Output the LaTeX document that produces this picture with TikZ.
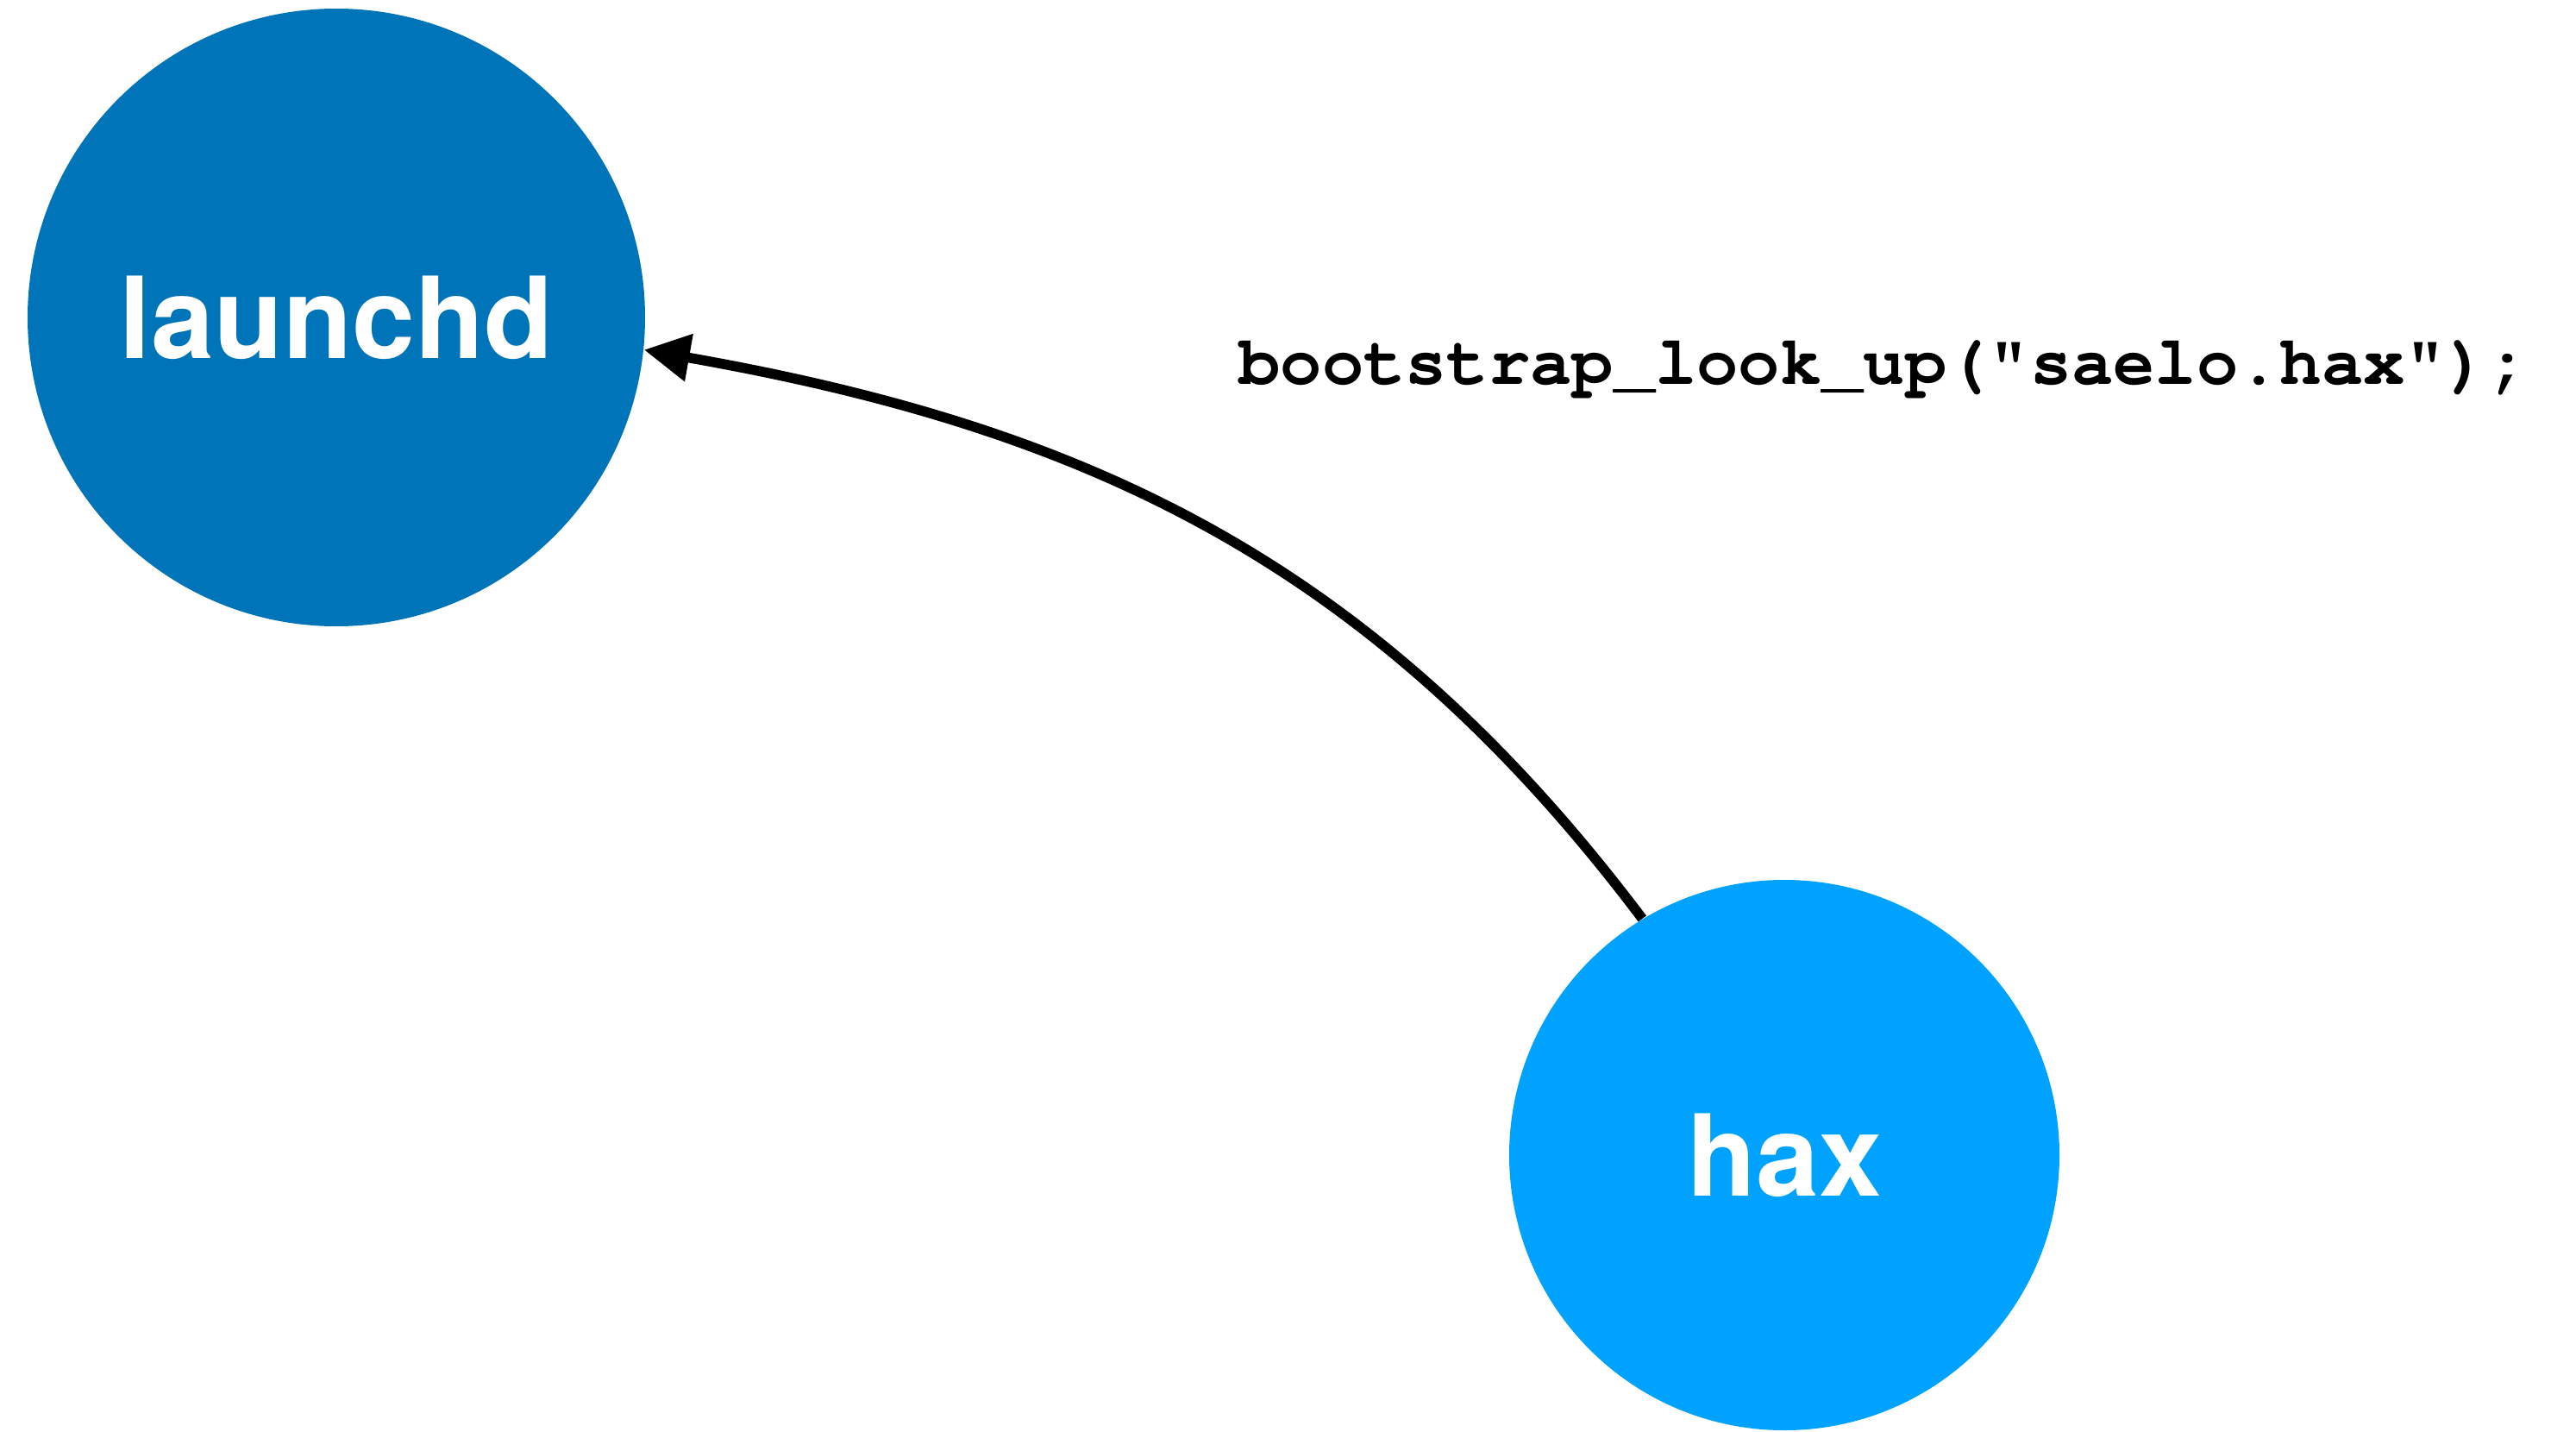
\documentclass[tikz,border=0pt]{standalone}
\usepackage[T1]{fontenc}
\usepackage{fontspec}
\setmainfont{TeX Gyre Heros}
\newcommand{\codefont}{\fontencoding{T1}\fontfamily{pcr}\fontseries{b}\selectfont}
\usepackage{tikz}
\usetikzlibrary{positioning,arrows.meta,calc}
\definecolor{launchdblue}{RGB}{0,116,184}
\definecolor{haxblue}{RGB}{0,162,255}

\begin{document}
\begin{tikzpicture}[>={Triangle[length=5.3mm,width=5.3mm]},
    every node/.style={font=\fontsize{37.3}{40}\selectfont\bfseries, text=white, align=center}]
  \def\dl{7.16cm}  \def\dh{6.38cm}
  \useasboundingbox (0,0) rectangle (29.87,-16.60);

  \node[circle, fill=launchdblue, inner sep=0pt, minimum size=\dl] (launchd)
      at (3.90,-3.68) {launchd};

  \node[circle, fill=haxblue, inner sep=0pt, minimum size=\dh] (hax)
      at (20.69,-13.39) {hax};

  \draw[->, line width=3.3pt] (hax.121) to[out=127, in=-10] (launchd.-6);

  \node[font=\codefont\fontsize{22.9}{27}\selectfont, text=black,
        anchor=base, inner sep=0pt] (lookup)
      at (21.85,-4.45) {bootstrap\_look\_up("saelo.hax");};
\end{tikzpicture}
\end{document}
